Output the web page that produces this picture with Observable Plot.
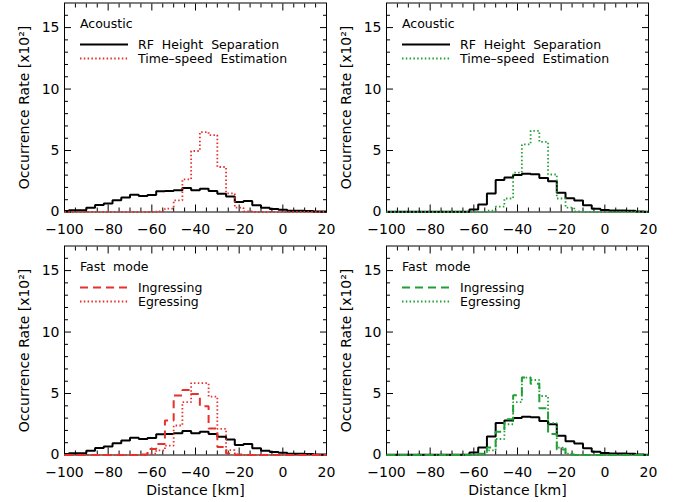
<!DOCTYPE html>
<html>
<head>
<meta charset="utf-8">
<script src="https://cdn.jsdelivr.net/npm/d3@7"></script>
<script src="https://cdn.jsdelivr.net/npm/@observablehq/plot@0.6"></script>
<style>
  html, body { margin: 0; padding: 0; background: white; }
  #chart { position: relative; width: 680px; height: 502px; overflow: hidden; }
  #chart svg { position: absolute; }
</style>
</head>
<body>
<div id="chart"></div>
<script>
// Bin centres (km)
const centers = [-100,-96,-92,-88,-84,-80,-76,-72,-68,-64,-60,-56,-52,-48,-44,-40,-36,-32,-28,-24,-20,-16,-12,-8,-4,0,4,8,12,16,20];

// Occurrence rates (x10^2)
const rfHeightLeft  = [0.08,0.15,0.15,0.35,0.57,0.70,0.95,1.17,1.41,1.30,1.38,1.68,1.71,1.76,1.95,1.76,1.90,1.71,1.49,1.27,0.81,0.89,0.54,0.35,0.24,0.19,0.11,0.10,0.08,0.05,0.05];
const timeSpeedLeft = [0,0,0,0,0,0,0,0,0,0,0,0.05,0.27,0.95,2.66,4.96,6.5,6.26,3.66,1.52,0.35,0.05,0,0,0,0,0,0,0,0,0];
const rfHeightRight = [0.03,0.03,0.03,0.03,0.03,0.03,0.03,0.03,0.03,0.03,0.2,0.6,1.5,2.6,2.8,3.0,3.12,3.08,2.76,2.5,1.56,1.12,0.94,0.54,0.27,0.16,0.13,0.13,0.1,0.05,0.03];
const timeSpeedRight= [0,0,0,0,0,0,0,0,0,0,0,0,0.1,0.43,1.1,3.2,5.5,6.6,5.7,3.05,1.1,0.35,0.05,0,0,0,0,0,0,0,0];
const ingressLeft   = [0,0,0,0,0,0,0,0,0,0.05,0.48,0.9,2.8,4.84,5.28,4.97,3.97,2.15,0.65,0.12,0.03,0,0,0,0,0,0,0,0,0,0];
const egressLeft    = [0,0,0,0,0,0,0,0,0,0,0.1,0.37,0.77,2.4,4.3,5.85,5.85,4.75,2.13,0.4,0.05,0,0,0,0,0,0,0,0,0,0];
const ingressRight  = [0,0,0,0,0,0,0,0,0,0,0.03,0.1,0.6,1.9,2.9,4.85,6.3,5.8,3.8,1.7,0.45,0.05,0,0,0,0,0,0,0,0,0];
const egressRight   = [0,0,0,0,0,0,0,0,0,0,0,0.05,0.37,1.3,2.5,4.3,6.3,6.1,4.8,2.6,0.6,0.1,0,0,0,0,0,0,0,0,0];

// Axis ticks
const xMajor = [-100,-80,-60,-40,-20,0,20];
const xMinor = [-95,-90,-85,-75,-70,-65,-55,-50,-45,-35,-30,-25,-15,-10,-5,5,10,15];
const yMajor = [0,5,10,15];
const yMinor = [1,2,3,4,6,7,8,9,11,12,13,14,16];

const RED = "#e8302c";
const GREEN = "#22a035";
const DOT = "1.5,2.3";
const DASH = "8,5";

const yTitle = "Occurrence Rate [x10²]";
const xTitle = "Distance [km]";

function legendMark(title, items) {
  return (index, scales, values, dims) => {
    const g = d3.create("svg:g")
      .attr("font-family", "DejaVu Sans")
      .attr("font-size", 12.5)
      .attr("text-anchor", "start")
      .style("word-spacing", "4px");
    const x0 = dims.marginLeft, y0 = dims.marginTop;
    g.append("text").attr("x", x0 + 16).attr("y", y0 + 21.5).attr("dy", "0.35em")
      .attr("fill", "black").text(title);
    items.forEach((it, i) => {
      const y = y0 + 42 + i * 14;
      g.append("line").attr("x1", x0 + 16).attr("x2", x0 + 64).attr("y1", y).attr("y2", y)
        .attr("stroke", it.color).attr("stroke-width", it.width)
        .attr("stroke-dasharray", it.dash || null);
      g.append("text").attr("x", x0 + 74).attr("y", y).attr("dy", "0.35em")
        .attr("fill", "black").text(it.label);
    });
    return g.node();
  };
}

function panel({left, top, height, marginTop, marginBottom, series, title, items, xlabel}) {
  const marks = [
    Plot.frame({stroke: "black", strokeWidth: 1}),
    Plot.axisX(xMajor, {anchor: "bottom", tickSize: -7, tickPadding: 19.5, label: null, fontSize: 14}),
    Plot.axisX(xMinor, {anchor: "bottom", tickSize: -4, fill: "none", label: null}),
    Plot.axisX(xMajor, {anchor: "top", tickSize: -7, fill: "none", label: null}),
    Plot.axisX(xMinor, {anchor: "top", tickSize: -4, fill: "none", label: null}),
    Plot.axisY(yMajor, {anchor: "left", tickSize: -7, tickPadding: 12, label: null, fontSize: 14}),
    Plot.axisY(yMinor, {anchor: "left", tickSize: -4, fill: "none", label: null}),
    Plot.axisY(yMajor, {anchor: "right", tickSize: -7, fill: "none", label: null}),
    Plot.axisY(yMinor, {anchor: "right", tickSize: -4, fill: "none", label: null}),
    Plot.text([yTitle], {frameAnchor: "left", dx: -40, rotate: -90, fontSize: 14, fill: "black", textAnchor: "middle", lineAnchor: "middle"})
  ];
  for (const s of series) {
    marks.push(Plot.line(s.values, {
      x: centers, y: s.values, curve: "step",
      stroke: s.color, strokeWidth: s.width, strokeDasharray: s.dash,
      strokeLinejoin: "miter", strokeLinecap: "butt"
    }));
  }
  if (xlabel) {
    marks.push(Plot.text([xlabel], {frameAnchor: "bottom", dy: 35.5, fontSize: 14, fill: "black", lineAnchor: "middle"}));
  }
  marks.push(legendMark(title, items));
  const svg = Plot.plot({
    width: 340, height,
    marginLeft: 64, marginRight: 14, marginTop, marginBottom,
    x: {domain: [-100, 20]},
    y: {domain: [0, 17]},
    style: {fontFamily: "DejaVu Sans", fontSize: "14px", background: "transparent", color: "black", overflow: "visible"},
    marks
  });
  svg.style.left = left + "px";
  svg.style.top = top + "px";
  document.getElementById("chart").appendChild(svg);
}

const solid = (values) => ({values, color: "black", width: 2});

panel({
  left: 0, top: 0, height: 240, marginTop: 2.5, marginBottom: 28.5,
  series: [solid(rfHeightLeft), {values: timeSpeedLeft, color: RED, width: 1.8, dash: DOT}],
  title: "Acoustic",
  items: [{label: "RF Height Separation", color: "black", width: 2}, {label: "Time–speed Estimation", color: RED, width: 1.8, dash: DOT}]
});
panel({
  left: 322, top: 0, height: 240, marginTop: 2.5, marginBottom: 28.5,
  series: [solid(rfHeightRight), {values: timeSpeedRight, color: GREEN, width: 1.8, dash: DOT}],
  title: "Acoustic",
  items: [{label: "RF Height Separation", color: "black", width: 2}, {label: "Time–speed Estimation", color: GREEN, width: 1.8, dash: DOT}]
});
panel({
  left: 0, top: 240, height: 262, marginTop: 5.5, marginBottom: 47.5,
  series: [solid(rfHeightLeft), {values: ingressLeft, color: RED, width: 2, dash: DASH}, {values: egressLeft, color: RED, width: 1.8, dash: DOT}],
  title: "Fast mode",
  items: [{label: "Ingressing", color: RED, width: 2, dash: DASH}, {label: "Egressing", color: RED, width: 1.8, dash: DOT}],
  xlabel: xTitle
});
panel({
  left: 322, top: 240, height: 262, marginTop: 5.5, marginBottom: 47.5,
  series: [solid(rfHeightRight), {values: ingressRight, color: GREEN, width: 2, dash: DASH}, {values: egressRight, color: GREEN, width: 1.8, dash: DOT}],
  title: "Fast mode",
  items: [{label: "Ingressing", color: GREEN, width: 2, dash: DASH}, {label: "Egressing", color: GREEN, width: 1.8, dash: DOT}],
  xlabel: xTitle
});
</script>
</body>
</html>
